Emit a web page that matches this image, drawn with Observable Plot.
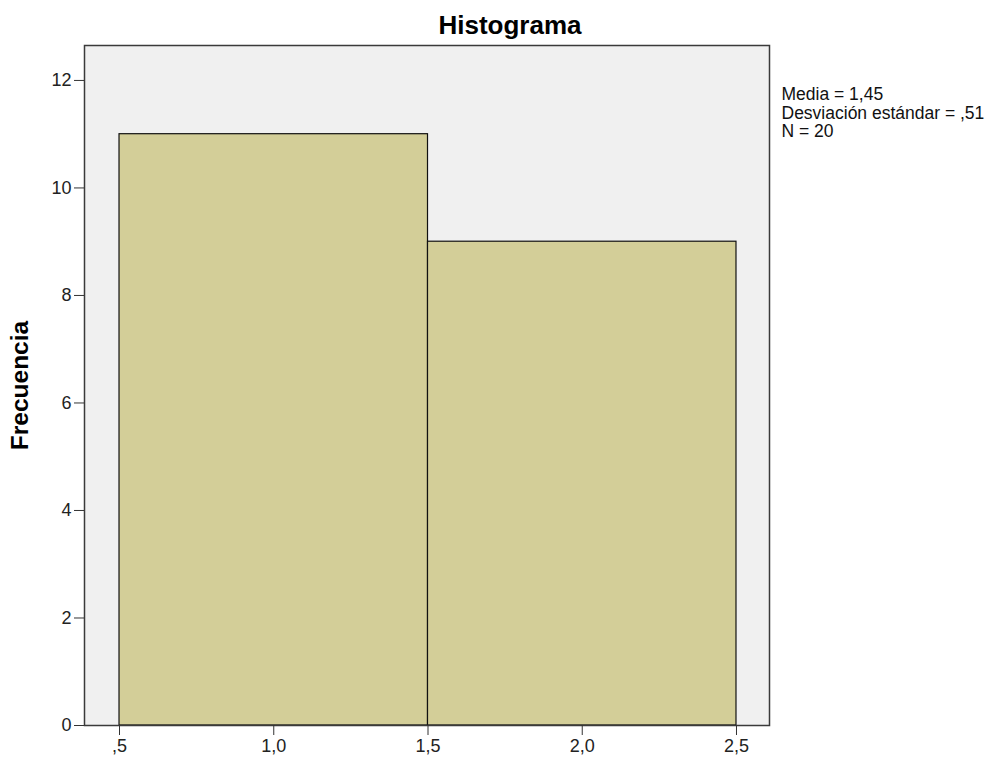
<!DOCTYPE html>
<html>
<head>
<meta charset="utf-8">
<script src="https://cdn.jsdelivr.net/npm/d3@7"></script>
<script src="https://cdn.jsdelivr.net/npm/@observablehq/plot@0.6"></script>
<style>
  body { margin: 0; background: #fff; font-family: "Liberation Sans", Arial, sans-serif; }
  #title { position: relative; height: 44px; width: 994px; }
  #title span { position: absolute; left: 510px; top: 11px; transform: translateX(-50%); font-weight: bold; font-size: 26px; line-height: 28px; color: #000; }
</style>
</head>
<body>
<div id="title"><span>Histograma</span></div>
<div id="chart"></div>
<script>
const binStart = [0.5, 1.5];
const binEnd = [1.5, 2.5];
const counts = [11, 9];
const xTicks = [0.5, 1.0, 1.5, 2.0, 2.5];
const yTicks = [0, 2, 4, 6, 8, 10, 12];
const statLines = ["Media = 1,45", "Desviación estándar = ,51", "N = 20"];
const yLabel = "Frecuencia";

const bins = binStart.map((s, i) => ({x1: s, x2: binEnd[i], count: counts[i]}));
const fmt = d => d3.format(".1f")(d).replace(".", ",").replace(/^0,/, ",");

const plot = Plot.plot({
  width: 994,
  height: 716,
  marginLeft: 84,
  marginRight: 225,
  marginTop: 1,
  marginBottom: 35,
  style: {fontFamily: '"Liberation Sans", Arial, sans-serif', fontSize: "18px", color: "#222", background: "#fff"},
  x: {domain: [0.3865, 2.607]},
  y: {domain: [0, 12.65]},
  marks: [
    Plot.frame({fill: "#f0f0f0", stroke: "none"}),
    Plot.rectY(bins, {x1: "x1", x2: "x2", y: "count", fill: "#d3ce98", stroke: "#111", strokeWidth: 1.2}),
    Plot.frame({stroke: "#3a3a3a", strokeWidth: 1.5}),
    Plot.axisY({ticks: yTicks, tickSize: 10, tickPadding: 3, tickFormat: d => String(d), label: null, stroke: "#333", fontSize: 18}),
    Plot.axisX({ticks: xTicks, tickSize: 10, tickPadding: 4, tickFormat: fmt, label: null, stroke: "#333", fontSize: 18}),
    Plot.text([yLabel], {text: d => d, frameAnchor: "left", textAnchor: "middle", dx: -64, rotate: -90, fontWeight: "bold", fontSize: 24.5, fill: "#000"}),
    Plot.text([statLines.join("\n")], {text: d => d, frameAnchor: "top-right", textAnchor: "start", lineAnchor: "top", lineHeight: 1.07, dx: 12, dy: 41, fill: "#111", fontSize: 17.5})
  ]
});
document.getElementById("chart").appendChild(plot);
</script>
</body>
</html>
